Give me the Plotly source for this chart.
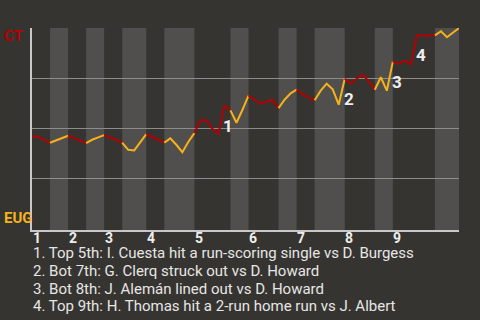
import plotly.graph_objects as go

# Win probability for CT after each play (0 = EUG wins, 1 = CT wins)
win_prob = [0.458, 0.458, 0.442, 0.427, 0.439, 0.452, 0.462, 0.449, 0.437, 0.425,
            0.442, 0.454, 0.465, 0.454, 0.442, 0.427, 0.392, 0.389, 0.427, 0.470,
            0.454, 0.442, 0.428, 0.449, 0.417, 0.380, 0.432, 0.475, 0.539, 0.539,
            0.497, 0.472, 0.612, 0.589, 0.527, 0.592, 0.662, 0.642, 0.622, 0.632,
            0.642, 0.600, 0.642, 0.674, 0.692, 0.669, 0.654, 0.639, 0.687, 0.722,
            0.694, 0.617, 0.747, 0.722, 0.747, 0.767, 0.732, 0.692, 0.754, 0.687,
            0.832, 0.822, 0.837, 0.819, 0.963, 0.963, 0.963, 0.963, 0.984, 0.954,
            0.977, 1.000]
# plays per half inning (top 1, bot 1, top 2, ...)
half_plays = [3, 3, 3, 3, 3, 4, 3, 5, 6, 3, 5, 3, 3, 5, 5, 3, 7, 4]
innings = ["1", "2", "3", "4", "5", "6", "7", "8", "9"]
team_top = "CT"
team_bottom = "EUG"
event_index = [32, 52, 60, 64]
event_labels = ["1", "2", "3", "4"]
notes = [
    "1. Top 5th: I. Cuesta hit a run-scoring single vs D. Burgess",
    "2. Bot 7th: G. Clerq struck out vs D. Howard",
    "3. Bot 8th: J. Alemán lined out vs D. Howard",
    "4. Top 9th: H. Thomas hit a 2-run home run vs J. Albert",
]

RED = "#b30000"
GOLD = "#f5b21a"
BG = "#363430"
STRIPE = "#504f4d"
FONT = "Roboto"

bounds = [0]
for n in half_plays:
    bounds.append(bounds[-1] + n)
n_last = bounds[-1]

fig = go.Figure()
shapes = []
for k in range(len(half_plays)):
    a, b = bounds[k], bounds[k + 1]
    if k % 2 == 1:
        shapes.append(dict(type="rect", xref="x", yref="paper", x0=a, x1=b, y0=0, y1=1,
                           fillcolor=STRIPE, line=dict(width=0), layer="below"))
    xs = list(range(a, b + 1))
    ys = win_prob[a:b + 1]
    fig.add_trace(go.Scatter(x=xs, y=ys, mode="lines",
                             line=dict(color=RED if k % 2 == 0 else GOLD, width=2),
                             hoverinfo="skip", showlegend=False))

annotations = []
for idx, lab in zip(event_index, event_labels):
    annotations.append(dict(x=idx, y=win_prob[idx], xref="x", yref="y", text="<b>%s</b>" % lab,
                            showarrow=False, xanchor="center", yanchor="middle",
                            xshift=4, yshift=-20,
                            font=dict(family=FONT, size=17, color="#eeeeee")))
annotations.append(dict(x=0, y=1, xref="paper", yref="paper", text="<b>%s</b>" % team_top,
                        showarrow=False, xanchor="left", yanchor="top", xshift=-30, yshift=3,
                        font=dict(family=FONT, size=15, color=RED)))
annotations.append(dict(x=0, y=0, xref="paper", yref="paper", text="<b>%s</b>" % team_bottom,
                        showarrow=False, xanchor="left", yanchor="bottom", xshift=-30, yshift=1,
                        font=dict(family=FONT, size=15, color=GOLD)))
for j, lab in enumerate(innings):
    annotations.append(dict(x=bounds[2 * j] + 0.75, y=0, xref="x", yref="paper",
                            text="<b>%s</b>" % lab, showarrow=False,
                            xanchor="center", yanchor="middle", yshift=-8,
                            font=dict(family=FONT, size=14, color="#eeeeee")))
for i, t in enumerate(notes):
    annotations.append(dict(x=0, y=0, xref="paper", yref="paper", text=t, showarrow=False,
                            xanchor="left", yanchor="middle", xshift=-1,
                            yshift=-(23.3 + 17.7 * i),
                            font=dict(family=FONT, size=15, color="#e6e6e6")))

fig.update_layout(
    width=480, height=320,
    margin=dict(l=32, r=21, t=28, b=90),
    paper_bgcolor=BG, plot_bgcolor=BG,
    shapes=shapes, annotations=annotations,
    xaxis=dict(range=[0, n_last], showticklabels=False,
               showgrid=False, zeroline=False, showline=True, linecolor="#c8c8c8",
               linewidth=1.5, ticks=""),
    yaxis=dict(range=[-0.0085, 1.0], tickvals=[0.25, 0.5, 0.75, 1.0], showticklabels=False,
               showgrid=True, gridcolor="#8c8c8a", gridwidth=1, zeroline=False,
               showline=True, linecolor="#c8c8c8", linewidth=1.5, ticks=""),
)

fig.write_html("out.html")
